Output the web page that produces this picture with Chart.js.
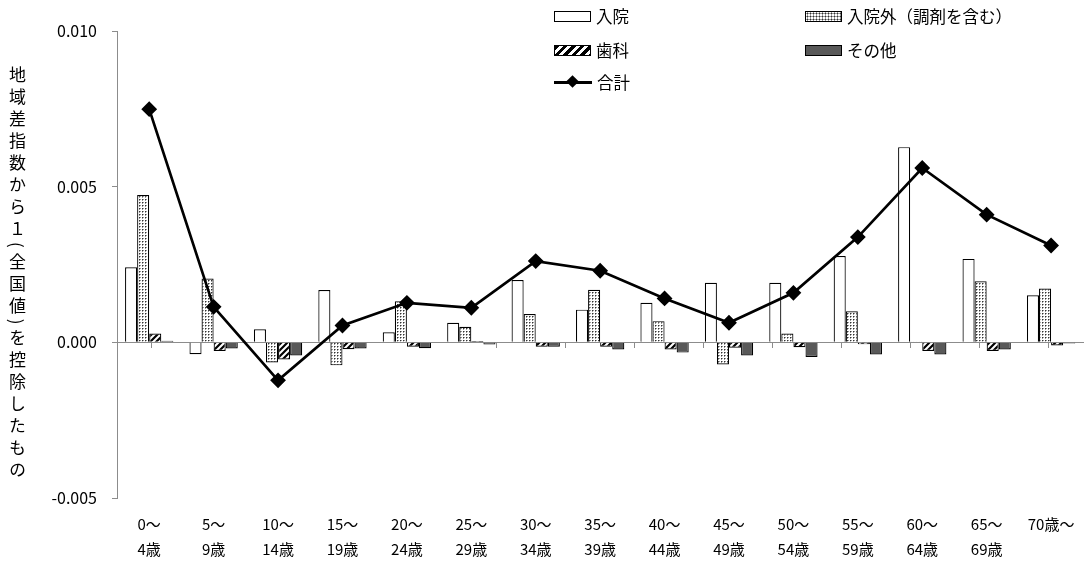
<!DOCTYPE html>
<html lang="ja">
<head>
<meta charset="utf-8">
<script src="https://cdn.jsdelivr.net/npm/chart.js@4/dist/chart.umd.min.js"></script>
<style>
  body { margin: 0; background: #fff; font-family: "Noto Sans CJK JP", sans-serif; }
  #wrap { position: relative; width: 1092px; height: 561px; }
  #yTitle {
    position: absolute; left: 9px; top: 66px;
    writing-mode: vertical-rl;
    font-size: 17px; letter-spacing: 5px; color: #000; line-height: 1;
  }
  .lg { position: absolute; display: flex; align-items: center; font-size: 16.5px; color: #000; height: 20px; white-space: nowrap; }
  .sw { width: 37px; height: 11px; border: 1px solid #000; margin-right: 5px; box-sizing: border-box; }
  .sw.white { background: #fff; }
  .sw.dots { background-color: #fff; background-image: radial-gradient(#333 0.8px, transparent 1.2px); background-size: 3px 3px; }
  .sw.stripe { background: repeating-linear-gradient(135deg, #000 0 3px, #fff 3px 6px); }
  .sw.dark { background: #595959; }
  .lineSw { position: relative; width: 38px; height: 12px; margin-right: 5px; }
  .lineSw::before { content: ""; position: absolute; left: 0; right: 0; top: 5px; height: 2.5px; background: #000; }
  .lineSw::after { content: ""; position: absolute; left: 14px; top: 1px; width: 9px; height: 9px; background: #000; transform: rotate(45deg); }
</style>
</head>
<body>
<div id="wrap">
  <canvas id="chart" width="1092" height="561"></canvas>
  <div id="yTitle">地域差指数から１(全国値)を控除したもの</div>
  <div class="lg" style="left:554px; top:6px;"><span class="sw white"></span>入院</div>
  <div class="lg" style="left:805px; top:6px;"><span class="sw dots"></span>入院外（調剤を含む）</div>
  <div class="lg" style="left:554px; top:40px;"><span class="sw stripe"></span>歯科</div>
  <div class="lg" style="left:805px; top:40px;"><span class="sw dark"></span>その他</div>
  <div class="lg" style="left:554px; top:72px;"><span class="lineSw"></span>合計</div>
</div>
<script>
// Data
const ageLabels = [
    ["0～", "4歳"], ["5～", "9歳"], ["10～", "14歳"], ["15～", "19歳"], ["20～", "24歳"],
    ["25～", "29歳"], ["30～", "34歳"], ["35～", "39歳"], ["40～", "44歳"], ["45～", "49歳"],
    ["50～", "54歳"], ["55～", "59歳"], ["60～", "64歳"], ["65～", "69歳"], ["70歳～"]
];
const nyuin    = [0.00241, -0.00038, 0.00042, 0.00168, 0.00032, 0.00063, 0.00200, 0.00105, 0.00127, 0.00191, 0.00191, 0.00277, 0.00627, 0.00268, 0.00151];
const nyuingai = [0.00473, 0.00205, -0.00065, -0.00074, 0.00132, 0.00050, 0.00091, 0.00169, 0.00068, -0.00071, 0.00028, 0.00100, 0.00003, 0.00196, 0.00173];
const shika    = [0.00028, -0.00028, -0.00055, -0.00022, -0.00014, 0.00004, -0.00014, -0.00014, -0.00023, -0.00017, -0.00016, -0.00006, -0.00028, -0.00028, -0.00010];
const sonota   = [0.00005, -0.00020, -0.00042, -0.00020, -0.00019, -0.00007, -0.00014, -0.00023, -0.00033, -0.00042, -0.00047, -0.00039, -0.00039, -0.00023, -0.00004];
const gokei    = [0.00749, 0.00114, -0.00122, 0.00054, 0.00127, 0.00111, 0.00261, 0.00230, 0.00141, 0.00063, 0.00159, 0.00338, 0.00560, 0.00410, 0.00311];

// Patterns
function dotPattern() {
    const c = document.createElement('canvas');
    c.width = 3; c.height = 3;
    const g = c.getContext('2d');
    g.fillStyle = '#fff';
    g.fillRect(0, 0, 3, 3);
    g.fillStyle = '#999';
    g.fillRect(2, 1, 1, 1);
    g.fillRect(1, 2, 1, 1);
    g.fillStyle = '#333';
    g.fillRect(1, 1, 1, 1);
    return g.createPattern(c, 'repeat');
}
function stripePattern() {
    const c = document.createElement('canvas');
    c.width = 6; c.height = 6;
    const g = c.getContext('2d');
    g.fillStyle = '#fff';
    g.fillRect(0, 0, 6, 6);
    g.strokeStyle = '#000';
    g.lineWidth = 2.2;
    g.beginPath();
    g.moveTo(-1, 7); g.lineTo(7, -1);
    g.moveTo(-4, 4); g.lineTo(4, -4);
    g.moveTo(2, 10); g.lineTo(10, 2);
    g.stroke();
    return g.createPattern(c, 'repeat');
}

const gray = '#8c8c8c';
const font = "'Noto Sans CJK JP', sans-serif";

const barDefaults = {
    type: 'bar',
    borderColor: '#000',
    borderWidth: 1.2,
    categoryPercentage: 0.75,
    barPercentage: 1,
    order: 1
};

new Chart(document.getElementById('chart'), {
    data: {
        labels: ageLabels,
        datasets: [
            { ...barDefaults, label: '入院', data: nyuin, backgroundColor: '#fff' },
            { ...barDefaults, label: '入院外（調剤を含む）', data: nyuingai, backgroundColor: dotPattern() },
            { ...barDefaults, label: '歯科', data: shika, backgroundColor: stripePattern() },
            { ...barDefaults, label: 'その他', data: sonota, backgroundColor: '#595959' },
            {
                type: 'line', label: '合計', data: gokei,
                borderColor: '#000', borderWidth: 2.7,
                pointStyle: 'rectRot', pointRadius: 6,
                pointBackgroundColor: '#000', pointBorderColor: '#000',
                order: 0
            }
        ]
    },
    options: {
        responsive: false,
        animation: false,
        layout: { padding: { top: 31, right: 7, bottom: 0, left: 0 } },
        plugins: {
            legend: { display: false },
            tooltip: { enabled: false }
        },
        scales: {
            x: {
                grid: { display: false, drawTicks: false },
                border: { display: false },
                ticks: {
                    color: '#000',
                    maxRotation: 0,
                    autoSkip: false,
                    padding: 14,
                    font: { family: font, size: 15, lineHeight: 1.667 }
                },
                afterFit: s => { s.height = 63; }
            },
            x2: {
                type: 'category',
                axis: 'x',
                position: { y: 0 },
                grid: { offset: true, drawOnChartArea: false, tickLength: 5, color: gray },
                border: { color: gray },
                ticks: { display: false }
            },
            y: {
                min: -0.005,
                max: 0.010,
                ticks: {
                    stepSize: 0.005,
                    color: '#000',
                    padding: 15,
                    font: { family: font, size: 16 },
                    callback: v => v.toFixed(3)
                },
                grid: {
                    color: c => (c.tick && Math.abs(c.tick.value) < 1e-9) ? gray : 'rgba(0,0,0,0)',
                    tickColor: gray,
                    tickLength: 5
                },
                border: { color: gray },
                afterFit: s => { s.width = 117; }
            }
        }
    }
});
</script>
</body>
</html>
